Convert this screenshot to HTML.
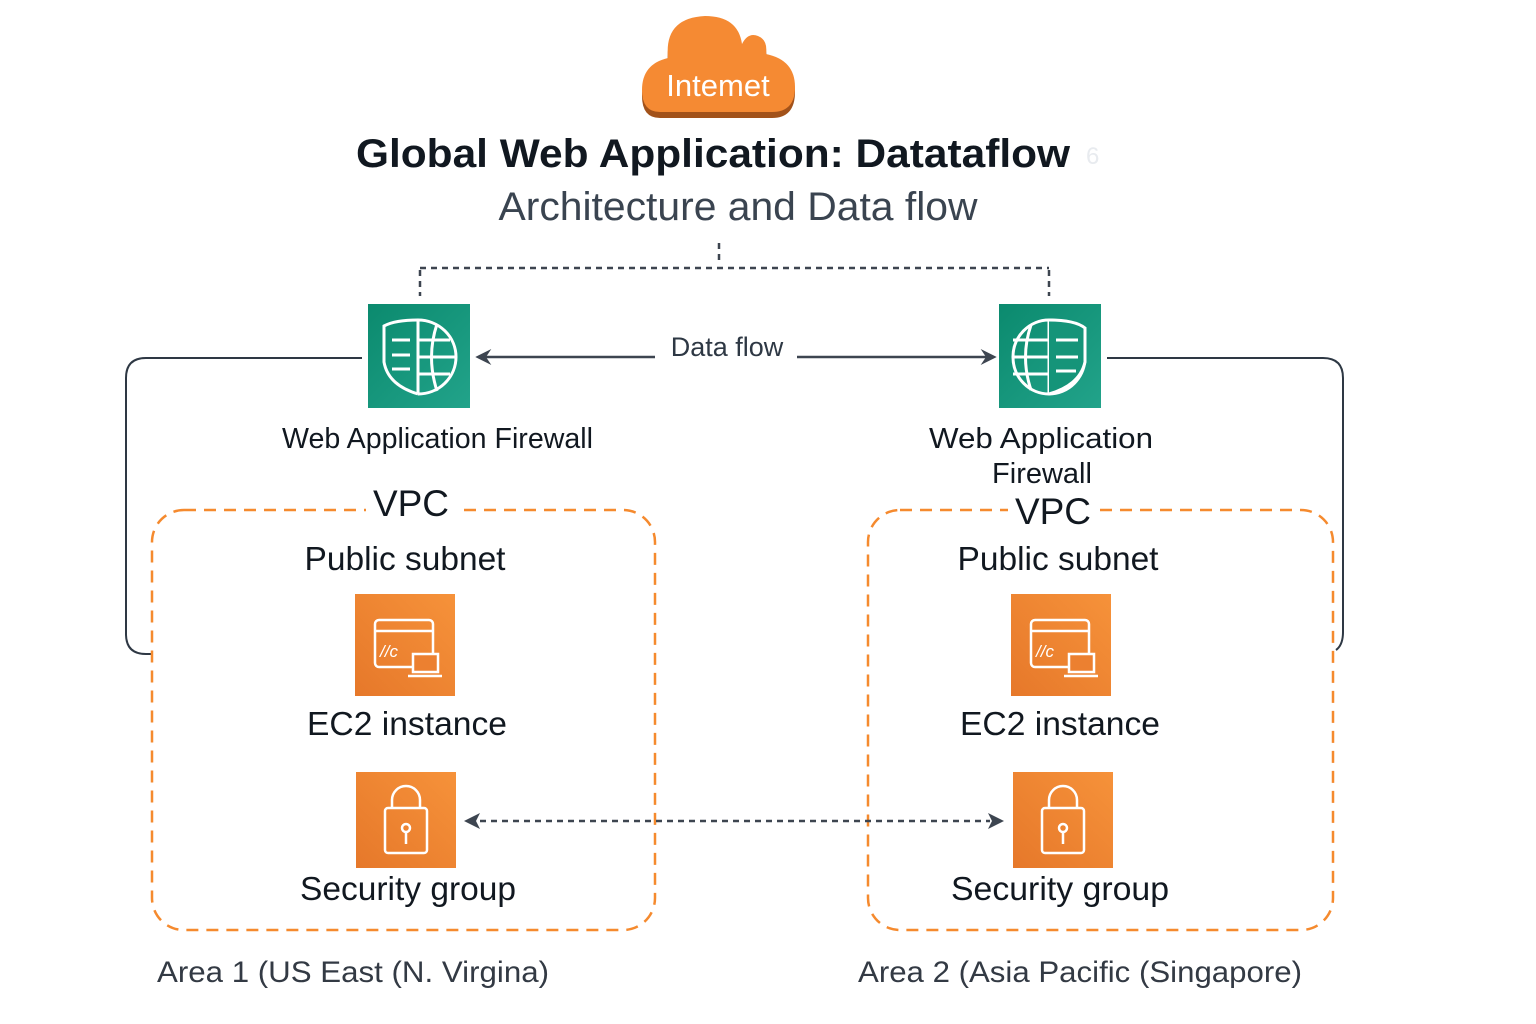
<!DOCTYPE html>
<html><head><meta charset="utf-8"><style>
html,body{margin:0;padding:0;background:#fff;}
svg{display:block;}
text{font-family:"Liberation Sans",sans-serif;}
</style></head><body>
<svg width="1536" height="1024" viewBox="0 0 1536 1024" xmlns="http://www.w3.org/2000/svg">
<defs>
<linearGradient id="g" x1="0" y1="0" x2="1" y2="1"><stop offset="0" stop-color="#0b8a6e"/><stop offset="1" stop-color="#22a38a"/></linearGradient>
<linearGradient id="o" x1="0" y1="1" x2="1" y2="0"><stop offset="0" stop-color="#e6782a"/><stop offset="1" stop-color="#f6923a"/></linearGradient>
<marker id="ah" viewBox="0 0 12 12" refX="10" refY="6" markerWidth="16" markerHeight="16" markerUnits="userSpaceOnUse" orient="auto"><path d="M0,0 L12,6 L0,12 L4,6 Z" fill="#3d4550"/></marker>
</defs>
<g>
<path d="M660,118 Q642,118 642,96 Q642,70 668,64 Q664,22 705,18 Q738,18 742,48 Q748,36 758,40 Q768,44 766,58 Q795,64 795,92 Q795,118 772,118 Z" fill="#a2521a"/>
<path d="M660,112 Q642,112 642,90 Q642,64 668,58 Q664,18 705,16 Q738,16 742,44 Q748,32 758,36 Q768,40 766,54 Q795,60 795,87 Q795,112 772,112 Z" fill="#f58a33"/>
<text x="718" y="96" font-size="31" fill="#fff" text-anchor="middle">Intemet</text>
</g>
<text x="713" y="167" font-size="40" font-weight="bold" fill="#111820" text-anchor="middle" textLength="714" lengthAdjust="spacingAndGlyphs">Global Web Application:  Datataflow</text>
<text x="1086" y="164" font-size="24" fill="#e8ebef">6</text>
<text x="738" y="220" font-size="40" fill="#3a4450" text-anchor="middle" textLength="479" lengthAdjust="spacingAndGlyphs">Architecture and Data flow</text>
<g stroke="#3d4550" stroke-width="2.5" stroke-dasharray="6 5" fill="none">
<line x1="719" y1="243" x2="719" y2="264"/>
<line x1="420" y1="268" x2="1049" y2="268"/>
<line x1="420" y1="270" x2="420" y2="296"/>
<line x1="1049" y1="270" x2="1049" y2="296"/>
</g>
<g stroke="#2e3844" stroke-width="2" fill="none">
<path d="M362,358 L146,358 Q126,358 126,378 L126,634 Q126,654 146,654 L152,654"/>
<path d="M1107,358 L1323,358 Q1343,358 1343,378 L1343,632 Q1343,645 1336,650"/>
</g>
<g stroke="#3d4550" stroke-width="2.5" fill="none">
<line x1="655" y1="357" x2="478" y2="357" marker-end="url(#ah)"/>
<line x1="797" y1="357" x2="994" y2="357" marker-end="url(#ah)"/>
</g>
<text x="727" y="356" font-size="27" fill="#2e3844" text-anchor="middle">Data flow</text>
<g>
<rect x="368" y="304" width="102" height="104" fill="url(#g)"/>
<g stroke="#fff" stroke-width="3" fill="none">
<path d="M418,320 Q395,320 384,326 L384,362 Q388,385 418,394"/>
<path d="M418,320 A38,37 0 0 1 418,394"/>
<line x1="418" y1="320" x2="418" y2="394"/>
<path d="M437,324 Q426,357 437,391"/>
<line x1="418" y1="340" x2="450" y2="340"/>
<line x1="418" y1="357" x2="456" y2="357"/>
<line x1="418" y1="374" x2="450" y2="374"/>
<line x1="392" y1="340" x2="410" y2="340"/>
<line x1="392" y1="355" x2="410" y2="355"/>
<line x1="392" y1="369" x2="410" y2="369"/>
</g>
</g>
<g>
<rect x="999" y="304" width="102" height="104" fill="url(#g)"/>
<g stroke="#fff" stroke-width="3" fill="none">
<ellipse cx="1049" cy="357" rx="36" ry="37"/>
<line x1="1049" y1="320" x2="1049" y2="394"/>
<path d="M1031,325 Q1020,357 1031,390"/>
<line x1="1013" y1="340" x2="1049" y2="340"/>
<line x1="1013" y1="357" x2="1049" y2="357"/>
<line x1="1013" y1="374" x2="1049" y2="374"/>
<path d="M1049,320 Q1075,320 1085,328 L1085,362 Q1080,385 1049,394" fill="#159479"/>
<line x1="1056" y1="340" x2="1078" y2="340"/>
<line x1="1056" y1="357" x2="1078" y2="357"/>
<line x1="1056" y1="371" x2="1076" y2="371"/>
</g>
</g>
<text x="282" y="448" font-size="29" fill="#111820" textLength="311" lengthAdjust="spacingAndGlyphs">Web Application Firewall</text>
<text x="1041" y="448" font-size="29" fill="#111820" text-anchor="middle" textLength="224" lengthAdjust="spacingAndGlyphs">Web Application</text>
<text x="1042" y="483" font-size="29" fill="#111820" text-anchor="middle">Firewall</text>
<g stroke="#f58a2e" stroke-width="2.5" stroke-dasharray="12 8" fill="none">
<rect x="152" y="510" width="503" height="420" rx="32"/>
<rect x="868" y="510" width="465" height="420" rx="32"/>
</g>
<rect x="366" y="495" width="90" height="30" fill="#fff"/>
<rect x="1008" y="495" width="90" height="30" fill="#fff"/>
<text x="411" y="516" font-size="37" fill="#111820" text-anchor="middle">VPC</text>
<text x="1053" y="524" font-size="37" fill="#111820" text-anchor="middle">VPC</text>
<text x="405" y="570" font-size="33" fill="#111820" text-anchor="middle" textLength="201" lengthAdjust="spacingAndGlyphs">Public subnet</text>
<text x="1058" y="570" font-size="33" fill="#111820" text-anchor="middle" textLength="201" lengthAdjust="spacingAndGlyphs">Public subnet</text>
<g id="ec2">
<rect x="355" y="594" width="100" height="102" fill="url(#o)"/>
<g stroke="#fff" stroke-width="2.5" fill="none">
<rect x="375" y="620" width="58" height="47" rx="4"/>
<line x1="375" y1="631" x2="433" y2="631"/>
<rect x="413" y="654" width="25" height="18" fill="#ec8030"/>
<line x1="408" y1="676" x2="442" y2="676"/>
</g>
<text x="380" y="657" font-size="17" fill="#fff" font-style="italic">//c</text>
</g>
<use href="#ec2" x="656" y="0"/>
<text x="407" y="735" font-size="33" fill="#111820" text-anchor="middle" textLength="200" lengthAdjust="spacingAndGlyphs">EC2 instance</text>
<text x="1060" y="735" font-size="33" fill="#111820" text-anchor="middle" textLength="200" lengthAdjust="spacingAndGlyphs">EC2 instance</text>
<g id="lock">
<rect x="356" y="772" width="100" height="96" fill="url(#o)"/>
<g stroke="#fff" stroke-width="2.5" fill="none">
<path d="M392,808 L392,800 A14,14 0 0 1 420,800 L420,808"/>
<rect x="385" y="808" width="42" height="45" rx="3"/>
<circle cx="406" cy="828" r="4"/>
<line x1="406" y1="832" x2="406" y2="844"/>
</g>
</g>
<use href="#lock" x="657" y="0"/>
<text x="408" y="900" font-size="33" fill="#111820" text-anchor="middle" textLength="216" lengthAdjust="spacingAndGlyphs">Security group</text>
<text x="1060" y="900" font-size="33" fill="#111820" text-anchor="middle" textLength="218" lengthAdjust="spacingAndGlyphs">Security group</text>
<g stroke="#3d4550" stroke-width="2.5" stroke-dasharray="6 5" fill="none">
<line x1="480" y1="821" x2="990" y2="821"/>
</g>
<path d="M464,821 L480,813 L476,821 L480,829 Z" fill="#3d4550"/>
<path d="M1004,821 L988,813 L992,821 L988,829 Z" fill="#3d4550"/>
<text x="157" y="982" font-size="30" fill="#333a44" textLength="392" lengthAdjust="spacingAndGlyphs">Area 1 (US East (N. Virgina)</text>
<text x="858" y="982" font-size="30" fill="#333a44" textLength="444" lengthAdjust="spacingAndGlyphs">Area 2 (Asia Pacific (Singapore)</text>
</svg>
</body></html>
